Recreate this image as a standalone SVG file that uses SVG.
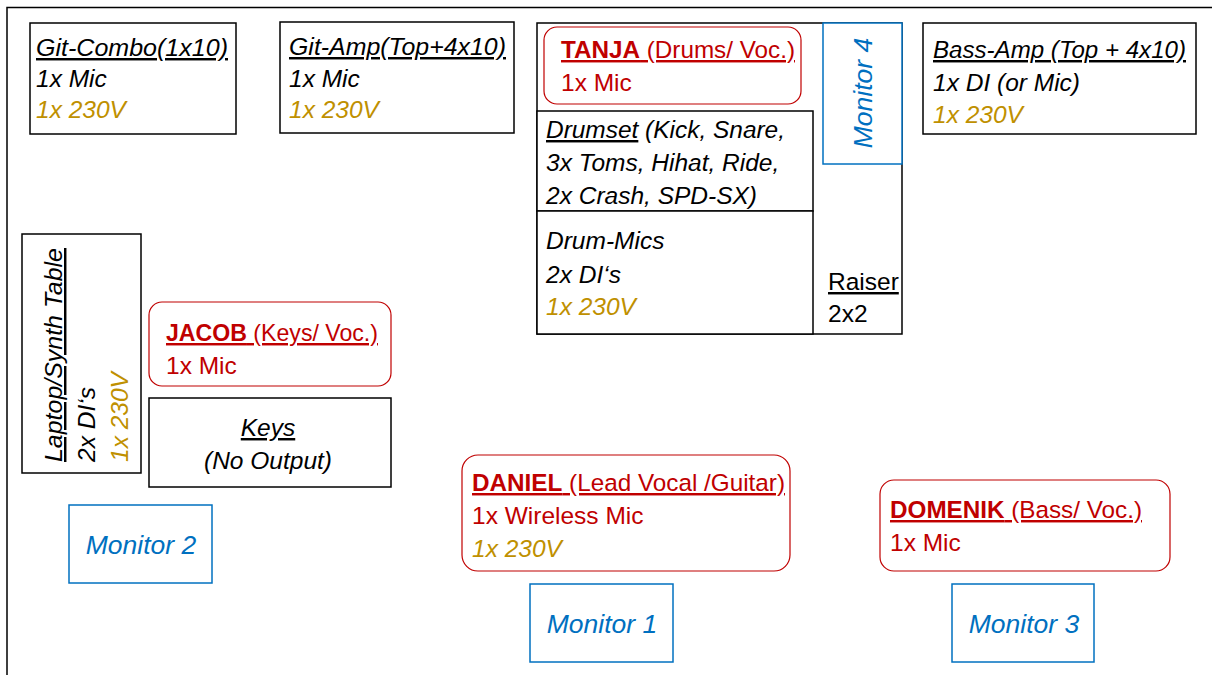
<svg xmlns="http://www.w3.org/2000/svg" width="1212" height="675" viewBox="0 0 1212 675">
<style>
text{font-family:"Liberation Sans","DejaVu Sans",sans-serif;font-size:24.5px;fill:#000}
.it{font-style:italic}
.u{text-decoration:underline}
.b{font-weight:bold}
.red{fill:#C00000}
.gold{fill:#BF9000}
.blue{fill:#0070C0;font-size:26.5px}
.box{fill:#fff;stroke:#000;stroke-width:1.5}
.rbox{fill:#fff;stroke:#C00000;stroke-width:1.2}
.mbox{fill:#fff;stroke:#0070C0;stroke-width:1.5}
.frame{fill:none;stroke:#000;stroke-width:1.5}
</style>
<g id="frame"><path class="frame" d="M7,675 V7.5 H1212"/></g>
<g id="connectors"></g>
<g id="git-combo">
<rect class="box" x="30" y="23" width="206" height="111"/>
<text class="it" x="36" y="56" textLength="192" lengthAdjust="spacingAndGlyphs"><tspan class="u">Git-Combo(1x10)</tspan></text>
<text class="it" x="36" y="87">1x Mic</text>
<text class="it gold" x="36" y="118">1x 230V</text>
</g>
<g id="git-amp">
<rect class="box" x="280" y="22" width="234" height="111"/>
<text class="it" x="289" y="55" textLength="217" lengthAdjust="spacingAndGlyphs"><tspan class="u">Git-Amp(Top+4x10)</tspan></text>
<text class="it" x="289" y="87">1x Mic</text>
<text class="it gold" x="289" y="118">1x 230V</text>
</g>
<g id="riser">
<rect class="box" x="537" y="23" width="365" height="311"/>
<text x="828" y="290" class="u">Raiser</text>
<text x="828" y="322">2x2</text>
</g>
<g id="tanja">
<rect class="rbox" x="544" y="27" width="257" height="77" rx="13"/>
<text class="red" x="561" y="58" textLength="234" lengthAdjust="spacingAndGlyphs"><tspan class="u"><tspan class="b">TANJA</tspan> (Drums/ Voc.)</tspan></text>
<text class="red" x="561" y="91">1x Mic</text>
</g>
<g id="drumset">
<rect class="box" x="537" y="111" width="276" height="100"/>
<text class="it" x="546" y="138" textLength="239" lengthAdjust="spacingAndGlyphs"><tspan class="u">Drumset</tspan> (Kick, Snare,</text>
<text class="it" x="546" y="171">3x Toms, Hihat, Ride,</text>
<text class="it" x="546" y="204">2x Crash, SPD-SX)</text>
</g>
<g id="drum-mics">
<rect class="box" x="537" y="211" width="276" height="123"/>
<text class="it" x="546" y="249">Drum-Mics</text>
<text class="it" x="546" y="283">2x DI‘s</text>
<text class="it gold" x="546" y="315">1x 230V</text>
</g>
<g id="monitor4">
<rect class="mbox" x="823" y="23" width="79" height="141"/>
<text class="it blue" transform="translate(872,93) rotate(-90)" text-anchor="middle">Monitor 4</text>
</g>
<g id="bass-amp">
<rect class="box" x="923" y="23" width="273" height="111"/>
<text class="it" x="933" y="58" textLength="253" lengthAdjust="spacingAndGlyphs"><tspan class="u">Bass-Amp (Top + 4x10)</tspan></text>
<text class="it" x="933" y="91">1x DI (or Mic)</text>
<text class="it gold" x="933" y="123">1x 230V</text>
</g>
<g id="laptop-table">
<rect class="box" x="22" y="234" width="119" height="239"/>
<text class="it" transform="translate(62,462) rotate(-90)" textLength="214" lengthAdjust="spacingAndGlyphs"><tspan class="u">Laptop/Synth Table</tspan></text>
<text class="it" transform="translate(95,462) rotate(-90)">2x DI‘s</text>
<text class="it gold" transform="translate(128,462) rotate(-90)">1x 230V</text>
</g>
<g id="jacob">
<rect class="rbox" x="149" y="302" width="242" height="84" rx="13"/>
<text class="red" x="166" y="341" textLength="212" lengthAdjust="spacingAndGlyphs"><tspan class="u"><tspan class="b">JACOB</tspan> (Keys/ Voc.)</tspan></text>
<text class="red" x="166" y="374">1x Mic</text>
</g>
<g id="keys">
<rect class="box" x="149" y="398" width="242" height="89"/>
<text class="it" x="268" y="436" text-anchor="middle"><tspan class="u">Keys</tspan></text>
<text class="it" x="268" y="469" text-anchor="middle">(No Output)</text>
</g>
<g id="daniel">
<rect class="rbox" x="462" y="455" width="328" height="116" rx="16"/>
<text class="red" x="472" y="491" textLength="313" lengthAdjust="spacingAndGlyphs"><tspan class="u"><tspan class="b">DANIEL</tspan> (Lead Vocal /Guitar)</tspan></text>
<text class="red" x="472" y="524">1x Wireless Mic</text>
<text class="it gold" x="472" y="557">1x 230V</text>
</g>
<g id="domenik">
<rect class="rbox" x="880" y="480" width="290" height="91" rx="14"/>
<text class="red" x="890" y="518" textLength="252" lengthAdjust="spacingAndGlyphs"><tspan class="u"><tspan class="b">DOMENIK</tspan> (Bass/ Voc.)</tspan></text>
<text class="red" x="890" y="551">1x Mic</text>
</g>
<g id="monitor1">
<rect class="mbox" x="530" y="584" width="143" height="78"/>
<text class="it blue" x="602" y="633" text-anchor="middle">Monitor 1</text>
</g>
<g id="monitor2">
<rect class="mbox" x="69" y="505" width="143" height="78"/>
<text class="it blue" x="141" y="554" text-anchor="middle">Monitor 2</text>
</g>
<g id="monitor3">
<rect class="mbox" x="952" y="584" width="142" height="78"/>
<text class="it blue" x="1024" y="633" text-anchor="middle">Monitor 3</text>
</g>
</svg>
